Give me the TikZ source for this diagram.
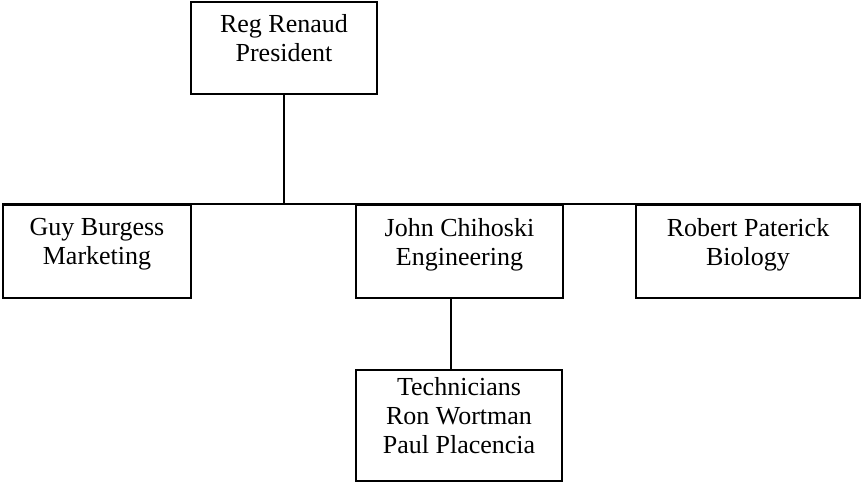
\documentclass[tikz,border=0pt]{standalone}
\usepackage{fontspec}
\setmainfont{Liberation Serif}
\usetikzlibrary{calc}
\newcommand{\BoxHeight}{93pt}
\tikzset{Person/.style={
    inner sep=0pt,
    minimum height=\BoxHeight,
    draw=black,
    line width=1.4pt,
    fill=white,
    align=center,
    font=\fontsize{26}{29}\selectfont,
    text depth=20pt,
    },
    Link/.style={line width=2pt}
}

\begin{document}
\begin{tikzpicture}[x=1pt, y=1pt]
\useasboundingbox (0,0) rectangle (861,-491);
% president on top
\node [Person, minimum width=186pt, minimum height=92pt] (pres) at (284,-48) {Reg Renaud\\President};
% heads of the three departments
\node [Person, minimum width=188pt] (guy) at (97,-251.5) {Guy Burgess\\Marketing};
\node [Person, minimum width=207pt] (john) at (459.5,-251.5) {John Chihoski\\Engineering};
\node [Person, minimum width=224pt] (rob) at (748,-251.5) {Robert Paterick\\Biology};
% staff under engineering
\node [Person, minimum width=206pt, minimum height=111pt] (tech) at (459,-425.5) {Technicians\\Ron Wortman\\Paul Placencia};
\coordinate (drop) at ($(john.south)+(-9,0)$);
\draw [Link] (guy.north west) -- (rob.north east);
\draw [Link] (pres.south) -- (pres.south |- guy.north);
\draw [Link] (drop) -- (drop |- tech.north);
\end{tikzpicture}
\end{document}
